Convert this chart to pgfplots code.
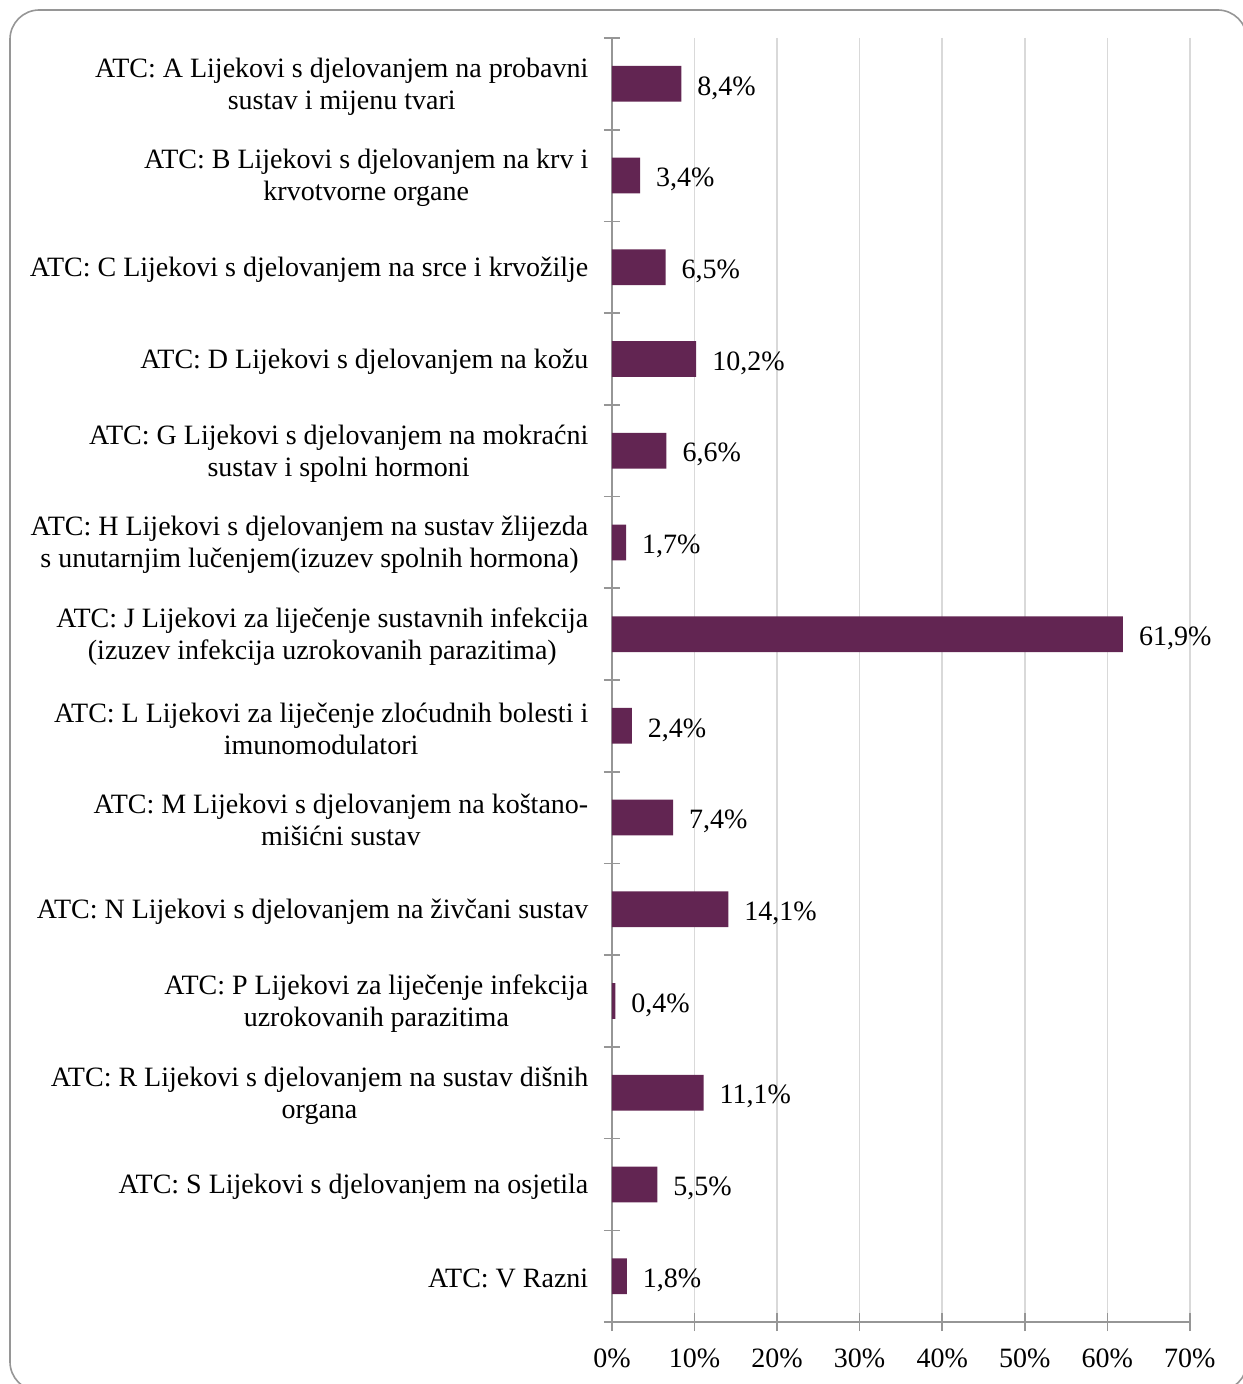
\documentclass[border=0pt]{standalone}
\usepackage{pgfplots}
\pgfplotsset{compat=1.18}
\usepackage{fontspec}
\setmainfont{Liberation Serif}
\definecolor{barc}{RGB}{98,37,82}
\definecolor{axc}{RGB}{150,150,150}
\definecolor{gridc}{RGB}{217,217,217}
\newcommand{\lf}{\fontsize{10.5}{12}\selectfont}
\begin{document}
\begin{tikzpicture}
\begin{axis}[
at={(0,0)}, anchor=south west,
xbar,
scale only axis,
width=216.7pt, height=481.5pt,
xmin=0, xmax=70,
ymin=-0.5, ymax=13.5,
y dir=reverse,
bar width=0.39,
axis x line*=bottom,
axis y line*=left,
axis line style={axc, line width=0.6pt},
xtick={0,10,...,70},
xticklabels={0\%,10\%,20\%,30\%,40\%,50\%,60\%,70\%},
ytick={0,...,13},
yticklabels={
{ATC: A Lijekovi s djelovanjem na probavni\\sustav i mijenu tvari},
{ATC: B Lijekovi s djelovanjem na krv i\\krvotvorne organe},
{ATC: C Lijekovi s djelovanjem na srce i krvožilje},
{ATC: D Lijekovi s djelovanjem na kožu},
{ATC: G Lijekovi s djelovanjem na mokraćni\\sustav i spolni hormoni},
{ATC: H Lijekovi s djelovanjem na sustav žlijezda\\s unutarnjim lučenjem(izuzev spolnih hormona)},
{ATC: J Lijekovi za liječenje sustavnih infekcija\\(izuzev infekcija uzrokovanih parazitima)},
{ATC: L Lijekovi za liječenje zloćudnih bolesti i\\imunomodulatori},
{ATC: M Lijekovi s djelovanjem na koštano-\\mišićni sustav},
{ATC: N Lijekovi s djelovanjem na živčani sustav},
{ATC: P Lijekovi za liječenje infekcija\\uzrokovanih parazitima},
{ATC: R Lijekovi s djelovanjem na sustav dišnih\\organa},
{ATC: S Lijekovi s djelovanjem na osjetila},
{ATC: V Razni}},
minor ytick={-0.5,0.5,...,13.5},
tick align=center,
major tick length=6.75pt,
minor tick length=6pt,
major y tick style={draw=none},
minor y tick style={axc, line width=0.6pt},
major x tick style={axc, line width=0.6pt},
xmajorgrids,
major x grid style={gridc, line width=0.6pt},
yticklabel style={font=\lf, align=center, xshift=-2pt, yshift=-1pt},
xticklabel style={font=\lf, yshift=-3pt},
nodes near coords={\pgfmathprintnumber[fixed,fixed zerofill,precision=1,use comma]{\pgfplotspointmeta}\%},
nodes near coords style={font=\lf, xshift=2.5pt, yshift=-1.5pt},
/pgf/number format/assume math mode=true,
]
\addplot[fill=barc, draw=none] coordinates {
(8.4,0) (3.4,1) (6.5,2) (10.2,3) (6.6,4) (1.7,5) (61.9,6)
(2.4,7) (7.4,8) (14.1,9) (0.4,10) (11.1,11) (5.5,12) (1.8,13)};
\end{axis}
\draw[rounded corners=11pt, axc, line width=0.6pt] (-225.75pt,-25.9pt) rectangle (238.1pt,492pt);
\pgfresetboundingbox
\useasboundingbox (-229.5pt,-23.25pt) rectangle (236.6pt,495.75pt);
\end{tikzpicture}
\end{document}
